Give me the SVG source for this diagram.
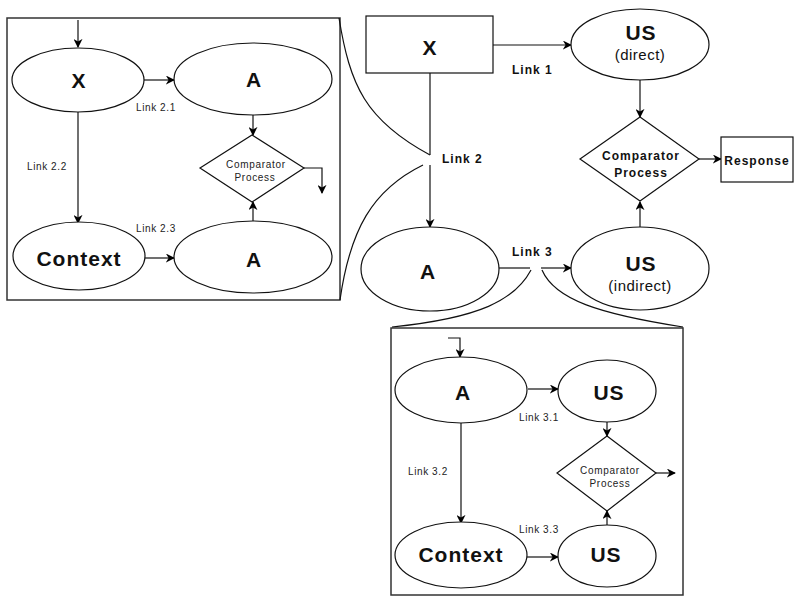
<svg xmlns="http://www.w3.org/2000/svg" width="800" height="600" viewBox="0 0 800 600">
<defs>
<marker id="ah" viewBox="0 0 10 10" refX="9" refY="5" markerWidth="9" markerHeight="9" markerUnits="userSpaceOnUse" orient="auto">
<path d="M0,0 L10,5 L0,10 L3,5 z" fill="#000"/>
</marker>
<style>
.n{fill:#fff;stroke:#111;stroke-width:1.2}
.b{fill:none;stroke:#333;stroke-width:1.5}
.c{fill:none;stroke:#111;stroke-width:1.2}
.a{fill:none;stroke:#111;stroke-width:1.2;marker-end:url(#ah)}
.t{font-family:"Liberation Sans",Arial,sans-serif;font-weight:bold;font-size:21px;text-anchor:middle;letter-spacing:1px;fill:#111}
.s{font-family:"Liberation Sans",Arial,sans-serif;font-size:15px;text-anchor:middle;letter-spacing:0.5px;fill:#111}
.l{font-family:"Liberation Sans",Arial,sans-serif;font-weight:bold;font-size:12px;letter-spacing:1px;fill:#111}
.m{font-family:"Liberation Sans",Arial,sans-serif;font-weight:bold;font-size:12px;letter-spacing:1px;text-anchor:middle;fill:#111}
.k{font-family:"Liberation Sans",Arial,sans-serif;font-size:10px;letter-spacing:0.6px;fill:#222}
.p{font-family:"Liberation Sans",Arial,sans-serif;font-size:10px;letter-spacing:0.7px;text-anchor:middle;fill:#222}
</style>
</defs>
<rect width="800" height="600" fill="#fff"/>

<g id="box2"><rect class="b" x="7" y="18" width="333" height="282"/></g>
<g id="box3"><rect class="b" x="391" y="328" width="292" height="267"/></g>

<g id="connectors">
<!-- zoom curves -->
<path class="c" d="M339,18 C350,85 365,120 430,155"/>
<path class="c" d="M423,165 C372,190 350,230 340,300"/>
<path class="c" d="M531,270 C515,300 480,318 392,327"/>
<path class="c" d="M542,270 C555,300 600,314 683,327"/>
<!-- main -->
<path class="a" d="M493,45 L571,45"/>
<path class="c" d="M430,73 L430,155"/>
<path class="a" d="M430,165 L430,227"/>
<path class="c" d="M499,268 L530,268"/>
<path class="a" d="M541,268 L571,268"/>
<path class="a" d="M640,80 L640,117"/>
<path class="a" d="M640,227 L640,202"/>
<path class="a" d="M699,159 L721,159"/>
<!-- box 2 -->
<path class="a" d="M78,20 L78,47"/>
<path class="a" d="M144,80 L174,80"/>
<path class="a" d="M78,112 L78,223"/>
<path class="a" d="M145,258 L174,258"/>
<path class="a" d="M253,115 L253,135"/>
<path class="a" d="M253,221 L253,202"/>
<path class="a" d="M304,168 L322,168 L322,193"/>
<!-- box 3 -->
<path class="a" d="M448,338 L460,338 L460,357"/>
<path class="a" d="M528,389 L558,389"/>
<path class="a" d="M461,423 L461,523"/>
<path class="a" d="M527,557 L558,557"/>
<path class="a" d="M607,422 L607,436"/>
<path class="a" d="M607,525 L607,511"/>
<path class="a" d="M656,473 L675,473"/>
</g>

<g id="X"><rect class="n" x="366" y="16" width="127" height="57"/><text class="t" x="430" y="55">X</text></g>
<g id="USdirect"><ellipse class="n" cx="640" cy="44.5" rx="69" ry="35.5"/><text class="t" x="641" y="39.5">US</text><text class="s" x="640" y="60">(direct)</text></g>
<g id="Amain"><ellipse class="n" cx="430" cy="269" rx="69" ry="42"/><text class="t" x="428" y="279">A</text></g>
<g id="USindirect"><ellipse class="n" cx="640" cy="268.5" rx="69" ry="41.5"/><text class="t" x="641" y="271">US</text><text class="s" x="640" y="291">(indirect)</text></g>
<g id="Comparator"><polygon class="n" points="640,117 699,159 640,201 580,159"/><text class="m" x="641" y="160">Comparator</text><text class="m" x="641" y="177">Process</text></g>
<g id="Response"><rect class="n" x="721" y="137" width="72" height="45"/><text class="m" x="757" y="165">Response</text></g>

<g id="X2"><ellipse class="n" cx="78" cy="80" rx="66" ry="32"/><text class="t" x="79" y="88">X</text></g>
<g id="A21"><ellipse class="n" cx="253" cy="79" rx="79" ry="36"/><text class="t" x="254" y="87">A</text></g>
<g id="Context2"><ellipse class="n" cx="79" cy="256" rx="66" ry="34"/><text class="t" x="79" y="266">Context</text></g>
<g id="A23"><ellipse class="n" cx="253" cy="257" rx="79" ry="36"/><text class="t" x="254" y="267">A</text></g>
<g id="Comp2"><polygon class="n" points="252,135 304,168 252,202 200,168"/><text class="p" x="256" y="168">Comparator</text><text class="p" x="255" y="181">Process</text></g>

<g id="A3"><ellipse class="n" cx="461" cy="390" rx="66" ry="33"/><text class="t" x="463" y="400">A</text></g>
<g id="US31"><ellipse class="n" cx="607" cy="391" rx="49" ry="31"/><text class="t" x="609" y="400">US</text></g>
<g id="Context3"><ellipse class="n" cx="461" cy="555" rx="66" ry="33"/><text class="t" x="461" y="562">Context</text></g>
<g id="US33"><ellipse class="n" cx="607" cy="556" rx="49" ry="31"/><text class="t" x="606" y="562">US</text></g>
<g id="Comp3"><polygon class="n" points="607,436 656,473 607,511 557,473"/><text class="p" x="610" y="474">Comparator</text><text class="p" x="610" y="487">Process</text></g>

<g id="labels">
<text class="l" x="512" y="74">Link 1</text>
<text class="l" x="442" y="163">Link 2</text>
<text class="l" x="512" y="256">Link 3</text>
<text class="k" x="136" y="111">Link 2.1</text>
<text class="k" x="27" y="170">Link 2.2</text>
<text class="k" x="136" y="232">Link 2.3</text>
<text class="k" x="519" y="421">Link 3.1</text>
<text class="k" x="408" y="475">Link 3.2</text>
<text class="k" x="519" y="533">Link 3.3</text>
</g>
</svg>
